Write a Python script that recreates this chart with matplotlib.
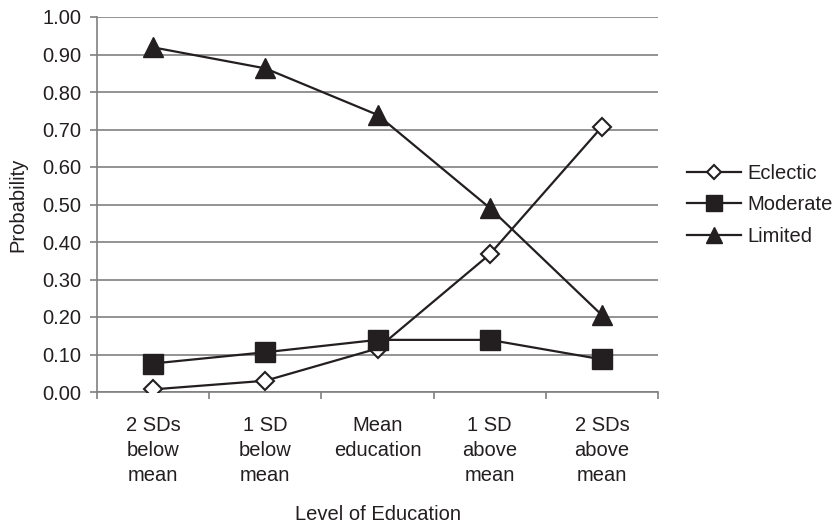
import matplotlib
matplotlib.use("Agg")
import matplotlib.pyplot as plt
from matplotlib.ticker import FixedLocator

plt.rcParams['font.family'] = ['Liberation Sans', 'DejaVu Sans']

categories = ["2 SDs\nbelow\nmean", "1 SD\nbelow\nmean", "Mean\neducation", "1 SD\nabove\nmean", "2 SDs\nabove\nmean"]
eclectic = [0.007, 0.030, 0.116, 0.367, 0.707]
moderate = [0.076, 0.106, 0.139, 0.139, 0.087]
limited = [0.919, 0.863, 0.739, 0.491, 0.205]
yticks = [i / 10 for i in range(11)]

ink = '#231f20'
grid = '#808080'
fs = 14.5

fig = plt.figure(figsize=(8.38, 5.28), dpi=100)
ax = fig.add_axes([97/838, (528-392)/528, (658-97)/838, (392-17)/528])

x = list(range(len(categories)))
ax.plot(x, eclectic, color=ink, lw=1.6, marker='D', ms=9.5, mfc='white', mec=ink, mew=1.5, label='Eclectic', zorder=3)
ax.plot(x, moderate, color=ink, lw=1.6, marker='s', ms=14, mfc=ink, mec=ink, label='Moderate', zorder=3)
ax.plot(x, limited, color=ink, lw=1.6, marker='^', ms=15, mfc=ink, mec=ink, label='Limited', zorder=3)

ax.set_xlim(-0.5, len(categories) - 0.5)
ax.set_ylim(0, 1.0)
ax.set_yticks(yticks)
ax.set_yticklabels([f"{v:.2f}" for v in yticks], fontsize=fs, color=ink)
ax.yaxis.grid(True, color=grid, lw=1.2)
ax.set_axisbelow(True)

ax.xaxis.set_major_locator(FixedLocator([i - 0.5 for i in range(len(categories) + 1)]))
ax.xaxis.set_major_formatter(plt.NullFormatter())
ax.xaxis.set_minor_locator(FixedLocator(x))
ax.set_xticklabels(categories, minor=True, fontsize=fs, color=ink, linespacing=1.4)
ax.tick_params(axis='x', which='major', length=5, width=1.2, color=grid, direction='out')
ax.tick_params(axis='x', which='minor', length=0, pad=17)
ax.tick_params(axis='y', length=5, width=1.2, color=grid, pad=6)

for s in ['top', 'right']:
    ax.spines[s].set_visible(False)
for s in ['left', 'bottom']:
    ax.spines[s].set_color(grid)
    ax.spines[s].set_linewidth(1.2)

ax.set_xlabel("Level of Education", fontsize=fs, color=ink, labelpad=15)
ax.set_ylabel("Probability", fontsize=fs, color=ink, labelpad=11)

leg = fig.legend(loc='center left', bbox_to_anchor=(687/838, (528-205)/528), frameon=False,
                 fontsize=fs, handlelength=2.7, handletextpad=0.3, labelspacing=0.6,
                 borderpad=0, borderaxespad=0, markerscale=0.78)
for t in leg.get_texts():
    t.set_color(ink)

fig.savefig("out.png", dpi=100)
